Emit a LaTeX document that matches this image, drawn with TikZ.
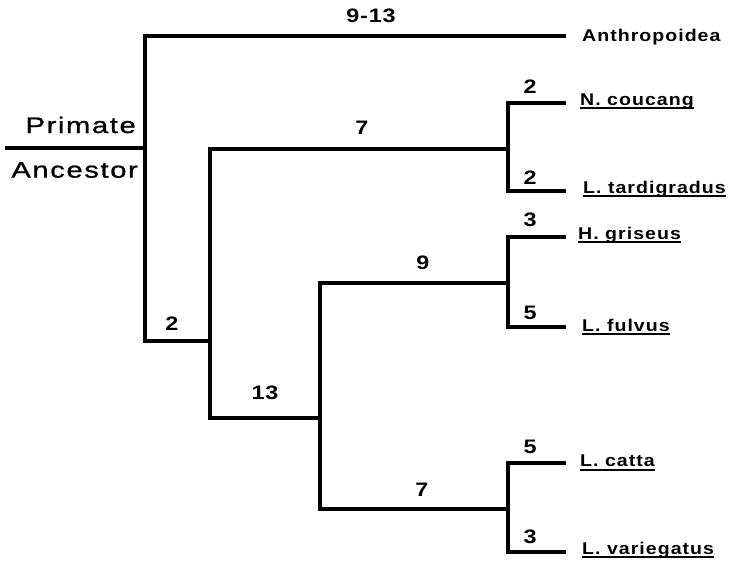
\documentclass[tikz,border=0pt]{standalone}
\usepackage{fontspec}
\setmainfont{Liberation Sans}
\newfontfamily\taxfont[FakeStretch=1.15,LetterSpace=6]{Liberation Sans}
\newfontfamily\rootfont[FakeStretch=1.3,LetterSpace=7,FakeBold=1]{Liberation Sans}
\newfontfamily\lenfont[FakeStretch=1.2,LetterSpace=4]{Liberation Sans}
\begin{document}
\begin{tikzpicture}[x=1pt,y=-1pt,
branch/.style={line width=4.5pt},
taxon/.style={anchor=west, inner sep=0pt, font=\taxfont\fontsize{17}{17}\selectfont\bfseries},
len/.style={inner sep=0pt, font=\lenfont\fontsize{19.5}{19.5}\selectfont\bfseries},
rootlabel/.style={anchor=east, inner sep=0pt, font=\rootfont\fontsize{22.5}{22.5}\selectfont},
uline/.style={line width=1.8pt}
]
\useasboundingbox (0,0) rectangle (733,562);

% internal nodes of the tree
\coordinate (base) at (5,148);
\coordinate (n1) at (145,148);
\coordinate (n2) at (210,341);
\coordinate (n3) at (508,149);
\coordinate (n4) at (320,418);
\coordinate (n5) at (508,283);
\coordinate (n6) at (508,509);

% tips
\coordinate (tanth) at (566,36);
\coordinate (tcou) at (566,103);
\coordinate (ttar) at (566,191);
\coordinate (tgri) at (566,237);
\coordinate (tful) at (566,327);
\coordinate (tcat) at (566,463);
\coordinate (tvar) at (566,552);

% branches
\draw[branch] (base) -- (n1);
\draw[branch] (n1) |- (tanth);
\draw[branch] (n1) |- (n2);
\draw[branch] (n2) |- (n3);
\draw[branch] (n2) |- (n4);
\draw[branch] (n3) |- (tcou);
\draw[branch] (n3) |- (ttar);
\draw[branch] (n4) |- (n5);
\draw[branch] (n4) |- (n6);
\draw[branch] (n5) |- (tgri);
\draw[branch] (n5) |- (tful);
\draw[branch] (n6) |- (tcat);
\draw[branch] (n6) |- (tvar);

% root labels
\node[rootlabel] (prim) at (136,125) {Primate};
\node[rootlabel] (anc) at (138,170) {Ancestor};

% taxa
\node[taxon] (anth) at (582,37) {Anthropoidea};
\node[taxon] (cou) at (580,101) {N. coucang};
\node[taxon] (tar) at (583,189) {L. tardigradus};
\node[taxon] (gri) at (578,235) {H. griseus};
\node[taxon] (ful) at (582,325) {L. fulvus};
\node[taxon] (cat) at (580,461) {L. catta};
\node[taxon] (var) at (582,550) {L. variegatus};
\foreach \t in {cou,tar,gri,ful,cat,var}
  \draw[uline] ([yshift=-3pt]\t.base west) -- ([yshift=-3pt]\t.base east);

% branch lengths
\node[len] (lanth) at (371,16) {9-13};
\node[len] (l1) at (362,128) {7};
\node[len] (l2) at (172,324) {2};
\node[len] (l3) at (265,393) {13};
\node[len] (l4) at (423,263) {9};
\node[len] (l5) at (422,490) {7};
\node[len] (lcou) at (530,87) {2};
\node[len] (ltar) at (530,178) {2};
\node[len] (lgri) at (530,220) {3};
\node[len] (lful) at (530,313) {5};
\node[len] (lcat) at (530,447) {5};
\node[len] (lvar) at (530,537) {3};
\end{tikzpicture}
\end{document}
